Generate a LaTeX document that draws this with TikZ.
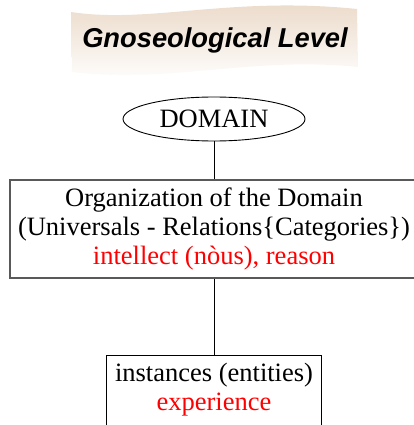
\documentclass[tikz,border=0pt]{standalone}
\usepackage{fontspec}
\setmainfont{Liberation Serif}
\newfontfamily\bannerfont{Liberation Sans}
\usetikzlibrary{shapes.geometric}
\definecolor{bannertop}{RGB}{234,216,198}
\begin{document}
\begin{tikzpicture}[x=1pt, y=-1pt, line width=0.9pt,
        levelbox/.style={draw, align=center, inner sep=0pt,
            font=\fontsize{26.5}{29}\selectfont}]
        \useasboundingbox (0,0) rectangle (414,425);
        \clip (0,0) rectangle (414,425);
        % banner
        \shade [top color=bannertop, bottom color=white]
            (71,12) .. controls (150,24) and (230,-4) .. (357,9)
            -- (358,67) .. controls (250,56) and (170,84) .. (72,72) -- cycle;
        \node (level) at (215,40) {\bannerfont\bfseries\itshape\fontsize{27.3}{30}\selectfont Gnoseological Level};
        % boxes
        \node [draw, ellipse, minimum width=182, minimum height=44, inner sep=0pt,
            font=\fontsize{26.5}{29}\selectfont] (domain) at (214,119) {DOMAIN};
        \node [levelbox, draw=black!65, line width=1.3pt, minimum width=408, minimum height=98]
            (org) at (214,229)
            {Organization of the Domain\\
             (Universals - Relations\{Categories\})\\
             \textcolor{red}{intellect (nòus), reason}};
        \node [levelbox, anchor=north, minimum width=215, inner ysep=8pt]
            (inst) at (214,355)
            {instances (entities)\\
             \textcolor{red}{experience}\rule[-30pt]{0pt}{30pt}};
        \draw (domain.south) -- (org.north);
        \draw (org.south) -- (inst.north);
    \end{tikzpicture}
\end{document}
